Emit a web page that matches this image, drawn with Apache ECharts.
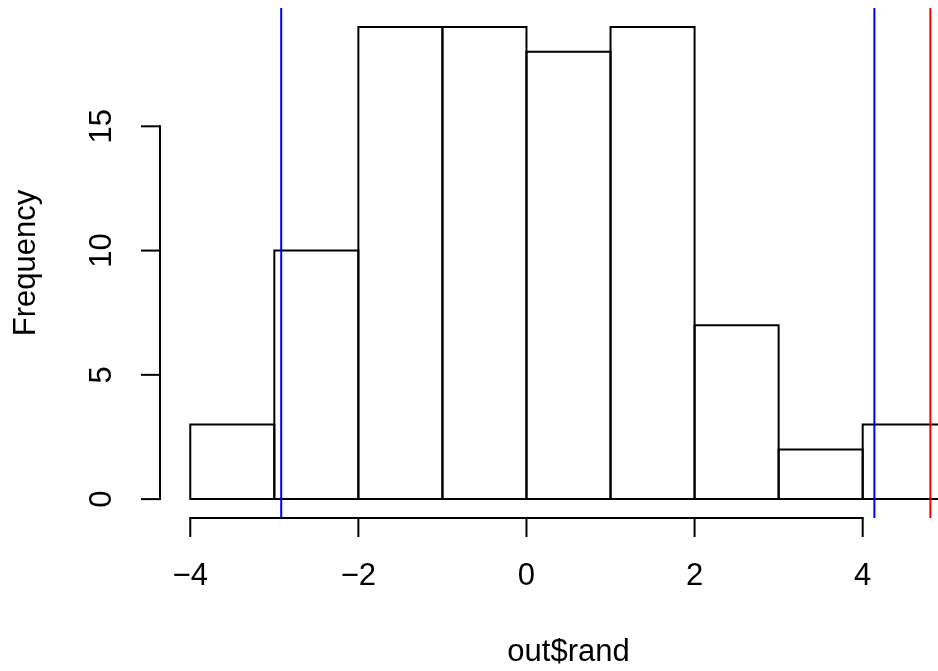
<!DOCTYPE html>
<html>
<head>
<meta charset="utf-8">
<script src="https://cdn.jsdelivr.net/npm/echarts@6/dist/echarts.min.js"></script>
<style>
  html, body { margin: 0; padding: 0; background: #fff; }
  #main { width: 938px; height: 671px; }
</style>
</head>
<body>
<div id="main"></div>
<script>
// histogram data
const breaks = [-4, -3, -2, -1, 0, 1, 2, 3, 4, 5];
const counts = [3, 10, 19, 19, 18, 19, 7, 2, 3];
const xTicks = [-4, -2, 0, 2, 4];
const yTicks = [0, 5, 10, 15];
const blueLines = [-2.918, 4.139];
const redLines = [4.805];

// R style usr range (4% padding); the page cuts the plot at the right edge
const xMin = -4.36, xUsrMax = 5.36, xViewMax = 4.896;
const yMin = -0.76, yMax = 19.76;

const FONT = '"Liberation Sans", Arial, sans-serif';
const FS = 31;

function fmt(v) {
  return v < 0 ? '\u2212' + Math.abs(v) : String(v);
}

const chart = echarts.init(document.getElementById('main'));

const option = {
  animation: false,
  backgroundColor: '#fff',
  grid: { left: 160, top: 8, right: 0, height: 510 },
  xAxis: { type: 'value', min: xMin, max: xViewMax, show: false },
  yAxis: { type: 'value', min: yMin, max: yMax, show: false },
  series: [
    {
      // bars
      type: 'custom',
      clip: false,
      data: counts.map((c, i) => [breaks[i], breaks[i + 1], c]),
      renderItem: function (params, api) {
        const p0 = api.coord([api.value(0), api.value(2)]);
        const p1 = api.coord([api.value(1), 0]);
        return {
          type: 'rect',
          shape: { x: p0[0], y: p0[1], width: p1[0] - p0[0], height: p1[1] - p0[1] },
          style: { fill: 'none', stroke: '#000', lineWidth: 2 }
        };
      }
    },
    {
      // x axis: line, ticks, labels
      type: 'custom',
      clip: false,
      data: xTicks,
      renderItem: function (params, api) {
        const v = api.value(0);
        const p = api.coord([v, yMin]);
        const children = [
          { type: 'line', shape: { x1: p[0], y1: p[1], x2: p[0], y2: p[1] + 19 },
            style: { stroke: '#000', lineWidth: 2 } },
          { type: 'text', x: p[0], y: p[1] + 58,
            style: { text: fmt(v), font: FS + 'px ' + FONT, fill: '#000', align: 'center', verticalAlign: 'middle' } }
        ];
        if (params.dataIndex === 0) {
          const a = api.coord([xTicks[0], yMin]);
          const b = api.coord([xTicks[xTicks.length - 1], yMin]);
          children.push({ type: 'line', shape: { x1: a[0], y1: a[1], x2: b[0], y2: b[1] },
            style: { stroke: '#000', lineWidth: 2, lineCap: 'square' } });
          const l = api.coord([xMin, yMin]);
          const r = api.coord([xUsrMax, yMin]);
          children.push({ type: 'text', x: (l[0] + r[0]) / 2, y: p[1] + 134,
            style: { text: 'out$rand', font: FS + 'px ' + FONT, fill: '#000', align: 'center', verticalAlign: 'middle' } });
        }
        return { type: 'group', children: children };
      }
    },
    {
      // y axis: line, ticks, labels
      type: 'custom',
      clip: false,
      data: yTicks,
      renderItem: function (params, api) {
        const v = api.value(0);
        const p = api.coord([xMin, v]);
        const children = [
          { type: 'line', shape: { x1: p[0], y1: p[1], x2: p[0] - 19, y2: p[1] },
            style: { stroke: '#000', lineWidth: 2 } },
          { type: 'text', x: p[0] - 58, y: p[1], rotation: Math.PI / 2,
            style: { text: fmt(v), font: FS + 'px ' + FONT, fill: '#000', align: 'center', verticalAlign: 'middle' } }
        ];
        if (params.dataIndex === 0) {
          const a = api.coord([xMin, yTicks[0]]);
          const b = api.coord([xMin, yTicks[yTicks.length - 1]]);
          children.push({ type: 'line', shape: { x1: a[0], y1: a[1], x2: b[0], y2: b[1] },
            style: { stroke: '#000', lineWidth: 2, lineCap: 'square' } });
          const t = api.coord([xMin, yMax]);
          const bt = api.coord([xMin, yMin]);
          children.push({ type: 'text', x: p[0] - 134, y: (t[1] + bt[1]) / 2, rotation: Math.PI / 2,
            style: { text: 'Frequency', font: FS + 'px ' + FONT, fill: '#000', align: 'center', verticalAlign: 'middle' } });
        }
        return { type: 'group', children: children };
      }
    },
    {
      // vertical reference lines
      type: 'custom',
      clip: false,
      data: blueLines.map(x => [x, 0]).concat(redLines.map(x => [x, 1])),
      renderItem: function (params, api) {
        const x = api.value(0);
        const a = api.coord([x, yMin]);
        const b = api.coord([x, yMax]);
        return {
          type: 'line',
          shape: { x1: a[0], y1: a[1], x2: b[0], y2: b[1] },
          style: { stroke: api.value(1) === 1 ? '#ff0000' : '#0000ff', lineWidth: 2 }
        };
      }
    }
  ]
};

chart.setOption(option);
</script>
</body>
</html>
